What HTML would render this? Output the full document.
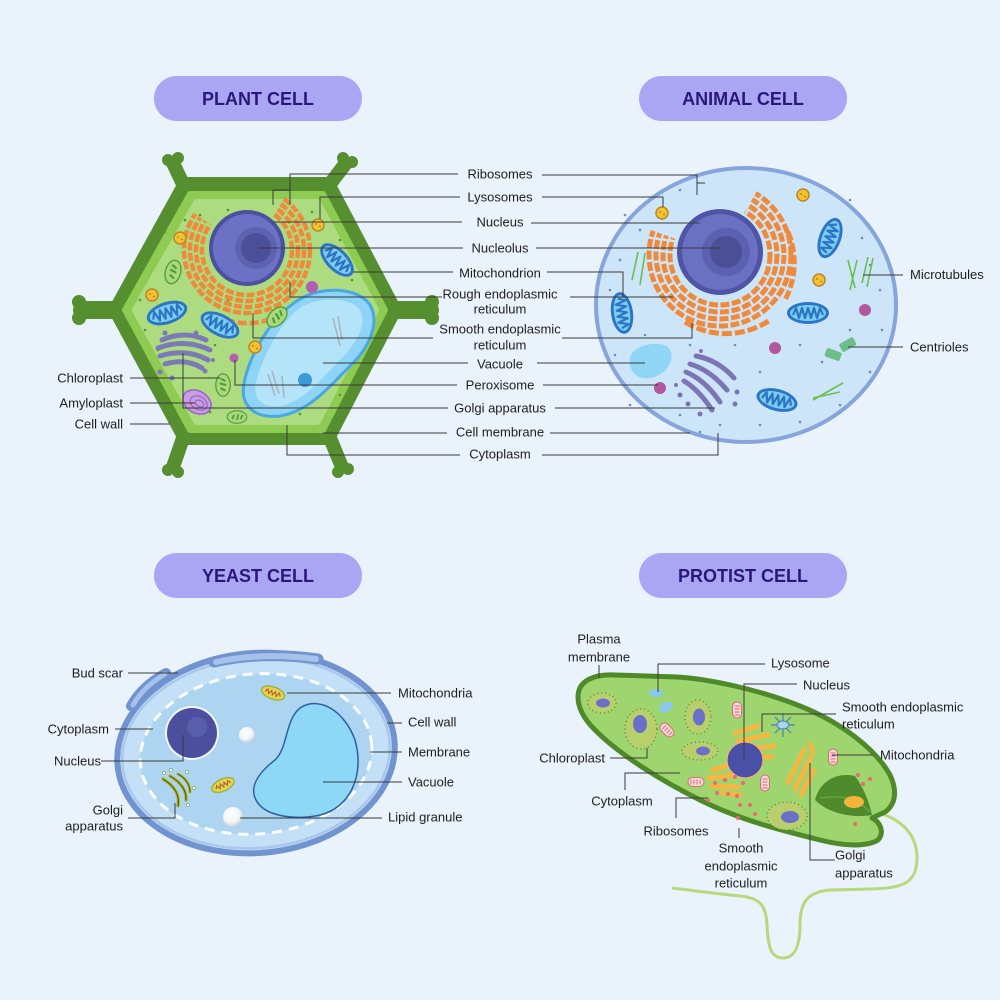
<!DOCTYPE html>
<html><head><meta charset="utf-8">
<style>
html,body{margin:0;padding:0;background:#eaf2fc;}
svg{display:block}
text{font-family:"Liberation Sans",sans-serif;font-size:13px;fill:#1e1e1e}
.t{font-weight:bold;font-size:18px;fill:#2a1878;text-anchor:middle}
.m{text-anchor:middle}
.e{text-anchor:end}
.ln{stroke:#3a3a3a;stroke-width:1;fill:none}
</style></head>
<body>
<svg width="1000" height="1000" viewBox="0 0 1000 1000">
<defs>
<g id="mito"><ellipse rx="21" ry="11" fill="#2c74c4"/><ellipse rx="18" ry="8" fill="#7ccdf3"/><path d="M-15,2 L-12,-5 L-9,5 L-6,-5 L-3,5 L0,-5 L3,5 L6,-5 L9,5 L12,-5 L15,2" stroke="#2c74c4" stroke-width="2.2" fill="none" stroke-linejoin="round"/></g>
<g id="lyso"><circle r="6" fill="#f4c22e" stroke="#b9872a" stroke-width="1.5"/><circle cx="-2" cy="-1" r="0.9" fill="#a4772a"/><circle cx="2" cy="1.5" r="0.9" fill="#a4772a"/></g>
<g id="chl"><ellipse rx="9" ry="14" fill="#a9d87a" stroke="#4f9a38" stroke-width="1.5"/><path d="M-3,-8 L3,-5 M-4,-2 L4,0 M-3,4 L3,7" stroke="#4f9a38" stroke-width="2.5"/></g>
<g id="pmito"><rect x="-4.5" y="-8" width="9" height="16" rx="4.5" fill="#fbd9d9" stroke="#d66a78" stroke-width="1"/><path d="M-2.5,-4 h5 M-2.5,-1 h5 M-2.5,2 h5 M-2.5,5 h5" stroke="#d66a78" stroke-width="1"/></g>
<clipPath id="pclip"><polygon points="247,250 333,127 420,127 420,420 80,420 80,164 124,164"/></clipPath>
<clipPath id="aclip"><polygon points="720,255 795,125 900,125 900,420 560,420 560,204 579,204"/></clipPath>
<radialGradient id="pearl" cx="0.4" cy="0.35" r="0.7"><stop offset="0" stop-color="#ffffff"/><stop offset="0.6" stop-color="#f1f5f7"/><stop offset="1" stop-color="#b9c9d3"/></radialGradient>
</defs>
<rect width="1000" height="1000" fill="#eaf2fc"/>

<!-- Titles -->
<rect x="154" y="76" width="208" height="45" rx="22.5" fill="#aaa6f4"/>
<text class="t" x="258" y="105">PLANT CELL</text>
<rect x="639" y="76" width="208" height="45" rx="22.5" fill="#aaa6f4"/>
<text class="t" x="743" y="105">ANIMAL CELL</text>
<rect x="154" y="553" width="208" height="45" rx="22.5" fill="#aaa6f4"/>
<text class="t" x="258" y="582">YEAST CELL</text>
<rect x="639" y="553" width="208" height="45" rx="22.5" fill="#aaa6f4"/>
<text class="t" x="743" y="582">PROTIST CELL</text>

<!-- ============ PLANT CELL ============ -->
<g stroke="#568f2f" stroke-linecap="round" stroke-width="14" fill="none">
<path d="M183,184 L173,163 M330,184 L346,163 M183,438 L173,467 M330,438 L342,467"/>
<path d="M112,310 L82,310 M398,310 L430,310" stroke-width="18"/>
</g>
<g fill="#568f2f">
<circle cx="79" cy="302" r="7"/><circle cx="79" cy="318" r="7"/>
<circle cx="432" cy="302" r="7"/><circle cx="432" cy="318" r="7"/>
<circle cx="168" cy="160" r="6"/><circle cx="178" cy="158" r="6"/>
<circle cx="343" cy="158" r="6"/><circle cx="352" cy="162" r="6"/>
<circle cx="168" cy="470" r="6"/><circle cx="178" cy="472" r="6"/>
<circle cx="338" cy="472" r="6"/><circle cx="348" cy="469" r="6"/>
</g>
<polygon points="183,181 330,181 398,310 330,441 183,441 112,310" fill="#568f2f" stroke="#568f2f" stroke-width="8" stroke-linejoin="round"/>
<polygon points="190,194 323,194 385,310 323,430 190,430 125,310" fill="#8dcb52" stroke="#8dcb52" stroke-width="6" stroke-linejoin="round"/>
<polygon points="197,203 317,203 375,310 317,421 197,421 136,310" fill="#acdb80" stroke="#acdb80" stroke-width="8" stroke-linejoin="round"/>
<g fill="#4d9a35">
<circle cx="150" cy="250" r="1.3"/><circle cx="165" cy="232" r="1.3"/><circle cx="200" cy="215" r="1.3"/><circle cx="228" cy="210" r="1.3"/>
<circle cx="312" cy="212" r="1.3"/><circle cx="340" cy="240" r="1.3"/><circle cx="352" cy="280" r="1.3"/><circle cx="364" cy="300" r="1.3"/>
<circle cx="145" cy="330" r="1.3"/><circle cx="158" cy="350" r="1.3"/><circle cx="148" cy="378" r="1.3"/><circle cx="175" cy="410" r="1.3"/>
<circle cx="210" cy="412" r="1.3"/><circle cx="300" cy="414" r="1.3"/><circle cx="340" cy="395" r="1.3"/><circle cx="360" cy="340" r="1.3"/>
<circle cx="228" cy="300" r="1.3"/><circle cx="200" cy="290" r="1.3"/><circle cx="215" cy="345" r="1.3"/><circle cx="250" cy="372" r="1.3"/>
<circle cx="140" cy="300" r="1.3"/><circle cx="185" cy="220" r="1.3"/><circle cx="270" cy="360" r="1.3"/>
</g>
<!-- plant ER -->
<g clip-path="url(#pclip)" fill="none" stroke="#f08a3a" stroke-width="4.5" stroke-dasharray="8 2.5">
<circle cx="247" cy="250" r="45"/><circle cx="247" cy="250" r="51"/><circle cx="247" cy="250" r="57"/><circle cx="247" cy="250" r="63"/>
</g>
<path d="M215,315 A69,69 0 0 0 285,312" fill="none" stroke="#f08a3a" stroke-width="4.5" stroke-dasharray="9 3"/>
<!-- plant nucleus -->
<circle cx="247" cy="248" r="38" fill="#4b519f"/>
<circle cx="247" cy="248" r="34" fill="#6b71c4"/>
<circle cx="256" cy="248" r="21" fill="#5d63b1"/>
<circle cx="256" cy="248" r="15" fill="#4b5099"/>
<!-- vacuole -->
<path d="M300,299 C322,286 358,287 370,305 C380,322 370,347 350,366 C330,386 310,411 280,416 C254,419 240,405 244,384 C248,358 270,317 300,299 Z" fill="#8ed4f6" stroke="#4aa7e4" stroke-width="3"/>
<path d="M303,306 C322,296 352,298 360,310 C368,325 355,345 340,360 C322,378 305,400 282,406 C262,409 252,398 256,382 C262,360 280,320 303,306 Z" fill="#b3e4fa"/>
<g stroke="#a7b3be" stroke-width="1.5"><path d="M268,374 L275,396 M272,371 L279,394 M282,376 L284,398 M333,318 L340,346 M338,316 L342,340"/></g>
<circle cx="305" cy="380" r="7" fill="#3a9bd9"/>
<!-- organelles -->
<use href="#mito" transform="translate(337,260) rotate(45)"/>
<use href="#mito" transform="translate(167,313) rotate(-18)"/>
<use href="#mito" transform="translate(220,325) rotate(27)"/>
<use href="#chl" transform="translate(173,272) rotate(15) scale(0.85)"/>
<use href="#chl" transform="translate(277,317) rotate(45) scale(0.85)"/>
<use href="#chl" transform="translate(223,385) scale(0.8)"/>
<use href="#chl" transform="translate(237,417) rotate(90) scale(0.7)"/>
<use href="#lyso" transform="translate(180,238)"/>
<use href="#lyso" transform="translate(318,225)"/>
<use href="#lyso" transform="translate(152,295)"/>
<use href="#lyso" transform="translate(255,347)"/>
<circle cx="312" cy="287" r="6" fill="#b15fae"/>
<circle cx="234" cy="358" r="4.5" fill="#b15fae"/>
<!-- golgi -->
<g stroke="#7c79b8" stroke-width="5" stroke-linecap="round" fill="none">
<path d="M162,340 Q185,330 206,340"/><path d="M158,348 Q185,338 210,350"/><path d="M160,356 Q186,348 208,360"/><path d="M165,364 Q186,358 202,368"/>
</g>
<g fill="#7c79b8"><circle cx="165" cy="333" r="2.5"/><circle cx="196" cy="333" r="2.5"/><circle cx="160" cy="372" r="2.5"/><circle cx="172" cy="378" r="2.5"/><circle cx="205" cy="371" r="2.5"/><circle cx="213" cy="360" r="2"/></g>
<!-- amyloplast -->
<g transform="translate(197,402) rotate(30)">
<ellipse rx="15" ry="11" fill="#c99de2" stroke="#9a63c4" stroke-width="1.5"/>
<ellipse cx="2" rx="9" ry="6.5" fill="none" stroke="#9a63c4" stroke-width="1.2"/>
<ellipse cx="3" rx="4.5" ry="3" fill="none" stroke="#9a63c4" stroke-width="1.2"/>
</g>

<!-- ============ ANIMAL CELL ============ -->
<ellipse cx="746" cy="305" rx="150" ry="137" fill="#cde5f8" stroke="#85a5db" stroke-width="4"/>
<g fill="#6b8fb8">
<circle cx="680" cy="190" r="1.3"/><circle cx="760" cy="195" r="1.3"/><circle cx="640" cy="230" r="1.3"/><circle cx="620" cy="260" r="1.3"/>
<circle cx="610" cy="290" r="1.3"/><circle cx="645" cy="335" r="1.3"/><circle cx="615" cy="355" r="1.3"/><circle cx="630" cy="405" r="1.3"/>
<circle cx="680" cy="415" r="1.3"/><circle cx="720" cy="425" r="1.3"/><circle cx="760" cy="425" r="1.3"/><circle cx="800" cy="422" r="1.3"/>
<circle cx="840" cy="405" r="1.3"/><circle cx="870" cy="372" r="1.3"/><circle cx="882" cy="330" r="1.3"/><circle cx="862" cy="238" r="1.3"/>
<circle cx="850" cy="200" r="1.3"/><circle cx="795" cy="262" r="1.3"/><circle cx="800" cy="345" r="1.3"/><circle cx="760" cy="372" r="1.3"/>
<circle cx="735" cy="345" r="1.3"/><circle cx="690" cy="345" r="1.3"/><circle cx="850" cy="330" r="1.3"/><circle cx="880" cy="290" r="1.3"/>
<circle cx="822" cy="362" r="1.3"/><circle cx="700" cy="432" r="1.3"/><circle cx="625" cy="215" r="1.3"/><circle cx="870" cy="265" r="1.3"/>
</g>
<g clip-path="url(#aclip)" fill="none" stroke="#f08a3a" stroke-width="5" stroke-dasharray="9 2.5">
<circle cx="720" cy="255" r="50"/><circle cx="720" cy="255" r="57"/><circle cx="720" cy="255" r="64"/><circle cx="720" cy="255" r="71"/>
</g>
<path d="M685,322 A78,78 0 0 0 770,320" fill="none" stroke="#f08a3a" stroke-width="5" stroke-dasharray="10 3"/>
<path d="M788,232 A72,76 0 0 1 785,300" fill="none" stroke="#f08a3a" stroke-width="5" stroke-dasharray="9 3"/>
<circle cx="720" cy="252" r="43" fill="#4f55a4"/>
<circle cx="720" cy="252" r="38" fill="#6a70c2"/>
<circle cx="726" cy="252" r="24" fill="#5b61b0"/>
<circle cx="726" cy="252" r="16" fill="#4a4f98"/>
<!-- animal organelles -->
<use href="#mito" transform="translate(622,313) rotate(82)"/>
<use href="#mito" transform="translate(830,238) rotate(-70)"/>
<use href="#mito" transform="translate(808,313)"/>
<use href="#mito" transform="translate(777,400) rotate(15)"/>
<use href="#lyso" transform="translate(662,213)"/>
<use href="#lyso" transform="translate(803,195)"/>
<use href="#lyso" transform="translate(819,280)"/>
<circle cx="865" cy="310" r="6" fill="#b4569e"/>
<circle cx="775" cy="348" r="6" fill="#b4569e"/>
<circle cx="660" cy="388" r="6" fill="#b4569e"/>
<path d="M630,358 C632,345 658,340 668,347 C677,357 668,375 650,378 C636,380 628,370 630,358 Z" fill="#8fd5f6"/>
<g stroke="#7d74b5" stroke-width="5" stroke-linecap="round" fill="none">
<path d="M696,356 Q718,360 734,378"/><path d="M690,364 Q710,370 727,390"/><path d="M686,372 Q705,380 720,402"/><path d="M684,381 Q699,390 712,410"/>
</g>
<g fill="#7d74b5"><circle cx="680" cy="395" r="2.5"/><circle cx="676" cy="385" r="2"/><circle cx="688" cy="404" r="2.5"/><circle cx="700" cy="414" r="2.5"/><circle cx="735" cy="404" r="2.5"/><circle cx="737" cy="392" r="2.5"/><circle cx="701" cy="351" r="2"/></g>
<g stroke="#6abf50" stroke-width="1.6" fill="none">
<path d="M632,280 L638,252 M640,285 L645,253 M850,290 L857,260 M848,260 L855,288 M862,283 L868,257 M867,287 L873,258 M813,400 L843,383 M813,398 L840,392"/>
</g>
<rect x="825" y="350" width="16" height="9" rx="2" fill="#6cbf8a" transform="rotate(20 833 355)"/>
<rect x="840" y="340" width="16" height="9" rx="2" fill="#6cbf8a" transform="rotate(-30 848 345)"/>

<!-- ============ LABELS TOP ============ -->
<g class="ln">
<!-- plant -->
<path d="M458,174 H290 V205 M290,190 H273 V205"/>
<path d="M460,197 H320 V219"/>
<path d="M462,222 H273"/>
<path d="M463,248 H258"/>
<path d="M453,272 H353"/>
<path d="M442,297 H290 V282"/>
<path d="M433,338 H253 V313"/>
<path d="M468,363 H323"/>
<path d="M457,385 H235 V360"/>
<path d="M448,408 H183 V353"/>
<path d="M447,433 H323"/>
<path d="M460,455 H287 V425"/>
<path d="M130,378 H220"/>
<path d="M130,403 H195"/>
<path d="M130,424 H170"/>
<!-- animal -->
<path d="M542,175 H697 V195 M697,183 H705"/>
<path d="M542,197 H663 V207"/>
<path d="M531,223 H700"/>
<path d="M536,248 H720"/>
<path d="M547,272 H623 V297"/>
<path d="M570,297 H673"/>
<path d="M562,338 H692 V323"/>
<path d="M537,363 H645"/>
<path d="M543,385 H658"/>
<path d="M555,408 H715"/>
<path d="M550,433 H690"/>
<path d="M542,455 H718 V433"/>
<path d="M863,275 H903"/>
<path d="M848,347 H903"/>
</g>
<g>
<text class="m" x="500" y="178.5">Ribosomes</text>
<text class="m" x="500" y="201.5">Lysosomes</text>
<text class="m" x="500" y="226.5">Nucleus</text>
<text class="m" x="500" y="252.5">Nucleolus</text>
<text class="m" x="500" y="277.5">Mitochondrion</text>
<text class="m" x="500" y="298.5">Rough endoplasmic</text>
<text class="m" x="500" y="313.5">reticulum</text>
<text class="m" x="500" y="333.5">Smooth endoplasmic</text>
<text class="m" x="500" y="349.5">reticulum</text>
<text class="m" x="500" y="368.5">Vacuole</text>
<text class="m" x="500" y="389.5">Peroxisome</text>
<text class="m" x="500" y="412.5">Golgi apparatus</text>
<text class="m" x="500" y="436.5">Cell membrane</text>
<text class="m" x="500" y="458.5">Cytoplasm</text>
<text class="e" x="123" y="382.5">Chloroplast</text>
<text class="e" x="123" y="407.5">Amyloplast</text>
<text class="e" x="123" y="428.5">Cell wall</text>
<text x="910" y="279">Microtubules</text>
<text x="910" y="351.5">Centrioles</text>
</g>

<!-- ============ YEAST CELL ============ -->
<g transform="rotate(-5 256 753)">
<ellipse cx="256" cy="753" rx="139" ry="100" fill="#c4e0f6" stroke="#7194d0" stroke-width="6"/>
<ellipse cx="256" cy="753" rx="134" ry="95" fill="none" stroke="#a9c6ec" stroke-width="2.5"/>
<ellipse cx="256" cy="754" rx="116" ry="80" fill="#acd4f0" stroke="#ffffff" stroke-width="3" stroke-dasharray="10 7" opacity="0.95"/>
</g>
<path d="M214,662 Q262,651 318,659" fill="none" stroke="#7194d0" stroke-width="11" stroke-linecap="round"/>
<path d="M216,662 Q262,652 316,659" fill="none" stroke="#a6c1ea" stroke-width="6" stroke-linecap="round"/>
<path d="M131,706 Q142,686 166,673" fill="none" stroke="#7194d0" stroke-width="10" stroke-linecap="round"/>
<path d="M133,705 Q143,687 165,674" fill="none" stroke="#a6c1ea" stroke-width="5" stroke-linecap="round"/>
<circle cx="192" cy="733" r="27" fill="#eef7fb"/>
<circle cx="192" cy="733" r="25" fill="#4b4f9d"/>
<circle cx="197" cy="727" r="10" fill="#5a5fab"/>
<circle cx="247" cy="735" r="8" fill="url(#pearl)"/>
<circle cx="233" cy="817" r="10" fill="url(#pearl)"/>
<path d="M300,708 C320,695 345,712 355,740 C365,775 350,808 320,815 C300,820 265,818 256,800 C248,785 262,770 275,760 C288,748 285,720 300,708 Z" fill="#8ed8f7" stroke="#2f5f9e" stroke-width="1.5"/>
<g transform="translate(273,693) rotate(20)"><ellipse rx="12" ry="6" fill="#e8d35a" stroke="#9ab83a" stroke-width="1.5"/><path d="M-8,1 L-6,-2 L-4,2 L-2,-2 L0,2 L2,-2 L4,2 L6,-2 L8,1" stroke="#b36f1c" stroke-width="1.3" fill="none"/></g>
<g transform="translate(223,785) rotate(-25)"><ellipse rx="12" ry="6" fill="#e8d35a" stroke="#9ab83a" stroke-width="1.5"/><path d="M-8,1 L-6,-2 L-4,2 L-2,-2 L0,2 L2,-2 L4,2 L6,-2 L8,1" stroke="#b36f1c" stroke-width="1.3" fill="none"/></g>
<g fill="none" stroke-linecap="round">
<path d="M163,779 Q181,790 178,806" stroke="#a7c23e" stroke-width="3.5"/><path d="M163,779 Q181,790 178,806" stroke="#6b5418" stroke-width="1.3"/>
<path d="M170,776 Q187,786 186,800" stroke="#a7c23e" stroke-width="3.5"/><path d="M170,776 Q187,786 186,800" stroke="#6b5418" stroke-width="1.3"/>
<path d="M178,774 Q190,781 190,792" stroke="#a7c23e" stroke-width="3"/><path d="M178,774 Q190,781 190,792" stroke="#6b5418" stroke-width="1.2"/>
</g>
<g fill="#ffffff" stroke="#7a9a3a" stroke-width="0.6"><circle cx="164" cy="773" r="1.6"/><circle cx="171" cy="770" r="1.6"/><circle cx="187" cy="772" r="1.6"/><circle cx="194" cy="788" r="1.6"/><circle cx="188" cy="805" r="1.6"/></g>
<g class="ln">
<path d="M128,673 H178"/>
<path d="M115,729 H153"/>
<path d="M101,761 H183 V735"/>
<path d="M128,818 H175 V803"/>
<path d="M287,693 H391"/>
<path d="M387,723 H402"/>
<path d="M370,752 H402"/>
<path d="M323,782 H402"/>
<path d="M240,818 H382"/>
</g>
<text class="e" x="123" y="677.5">Bud scar</text>
<text class="e" x="109" y="733.5">Cytoplasm</text>
<text class="e" x="101" y="765.5">Nucleus</text>
<text class="e" x="123" y="814.5">Golgi</text>
<text class="e" x="123" y="830.5">apparatus</text>
<text x="398" y="697.5">Mitochondria</text>
<text x="408" y="726.5">Cell wall</text>
<text x="408" y="756.5">Membrane</text>
<text x="408" y="786.5">Vacuole</text>
<text x="388" y="821.5">Lipid granule</text>

<!-- ============ PROTIST CELL ============ -->
<path d="M867,810 C895,815 918,830 917,860 C916,885 900,888 870,889 L830,890 C805,892 800,905 800,925 C800,945 795,958 783,958 C770,958 768,945 767,925 C766,905 760,898 740,896 C710,893 690,890 672,888" fill="none" stroke="#b7d97c" stroke-width="3"/>
<path d="M578,697 C578,680 595,674 615,675 L677,677 C710,679 760,690 800,706 C840,722 875,748 890,775 C898,792 895,805 885,812 L872,818 C880,822 885,832 878,840 C865,848 840,845 820,840 C780,830 740,820 700,800 C660,780 620,755 595,730 C583,718 578,707 578,697 Z" fill="#9fd56f" stroke="#4e8a2a" stroke-width="5" stroke-linejoin="round"/>
<path d="M815,800 C820,780 838,772 855,776 C865,790 870,805 872,815 C855,818 830,815 815,800 Z" fill="#4f8a2d"/>
<path d="M820,798 C840,795 855,797 870,812" fill="none" stroke="#6fae4a" stroke-width="1"/>
<ellipse cx="854" cy="802" rx="10" ry="6" fill="#f5b53b"/>
<!-- chloroplasts -->
<g>
<ellipse cx="602" cy="703" rx="14" ry="10" fill="#b8cf6b"/><ellipse cx="602" cy="703" rx="14" ry="10" fill="none" stroke="#5a8a3a" stroke-width="1.5" stroke-dasharray="1 3"/><ellipse cx="603" cy="703" rx="7" ry="4.5" fill="#6a6fc8"/>
<ellipse cx="641" cy="729" rx="16" ry="20" fill="#b8cf6b"/><ellipse cx="641" cy="729" rx="16" ry="20" fill="none" stroke="#5a8a3a" stroke-width="1.5" stroke-dasharray="1 3"/><ellipse cx="640" cy="724" rx="7" ry="9" fill="#6a6fc8"/>
<ellipse cx="698" cy="717" rx="13" ry="17" fill="#b8cf6b"/><ellipse cx="698" cy="717" rx="13" ry="17" fill="none" stroke="#5a8a3a" stroke-width="1.5" stroke-dasharray="1 3"/><ellipse cx="699" cy="717" rx="6" ry="8.5" fill="#6a6fc8"/>
<ellipse cx="700" cy="751" rx="18" ry="9" fill="#b8cf6b"/><ellipse cx="700" cy="751" rx="18" ry="9" fill="none" stroke="#5a8a3a" stroke-width="1.5" stroke-dasharray="1 3"/><ellipse cx="703" cy="751" rx="7" ry="4.5" fill="#6a6fc8"/>
<ellipse cx="787" cy="816" rx="20" ry="14" fill="#b8cf6b"/><ellipse cx="787" cy="816" rx="20" ry="14" fill="none" stroke="#5a8a3a" stroke-width="1.5" stroke-dasharray="1 3"/><ellipse cx="790" cy="817" rx="9" ry="6" fill="#6a6fc8"/>
</g>
<ellipse cx="656" cy="693" rx="7" ry="4" fill="#8ac8ec"/>
<ellipse cx="666" cy="707" rx="7" ry="5" fill="#8ac8ec" transform="rotate(-30 666 707)"/>
<!-- orange ER / golgi -->
<g stroke="#f7b643" stroke-width="5" stroke-linecap="round" fill="none">
<path d="M735,733 L758,726"/><path d="M738,741 L768,735"/><path d="M746,749 L774,746"/><path d="M752,757 L772,757"/>
<path d="M713,770 L733,764"/><path d="M709,778 L735,775"/><path d="M712,786 L738,787"/><path d="M722,793 L740,795"/>
<path d="M788,782 L804,750"/><path d="M795,789 L811,757"/><path d="M801,795 L814,770"/><path d="M810,744 L813,752"/>
</g>
<circle cx="745" cy="760" r="18" fill="#4a50a5" stroke="#f2b37a" stroke-width="1.2"/>
<g stroke="#4a7fb5" stroke-width="1.2"><path d="M783,713 L783,737 M771,725 L795,725 M775,717 L791,733 M791,717 L775,733"/></g>
<ellipse cx="783" cy="725" rx="6" ry="4" fill="#a9d6ec" stroke="#4a7fb5" stroke-width="1"/>
<use href="#pmito" transform="translate(667,730) rotate(-45)"/>
<use href="#pmito" transform="translate(737,710)"/>
<use href="#pmito" transform="translate(696,782) rotate(90)"/>
<use href="#pmito" transform="translate(765,783)"/>
<use href="#pmito" transform="translate(833,757)"/>
<g fill="#e86b6b">
<circle cx="715" cy="783" r="2"/><circle cx="725" cy="780" r="2"/><circle cx="735" cy="777" r="2"/><circle cx="743" cy="783" r="2"/>
<circle cx="717" cy="793" r="2"/><circle cx="728" cy="794" r="2"/><circle cx="737" cy="796" r="2"/><circle cx="708" cy="800" r="2"/>
<circle cx="740" cy="805" r="2"/><circle cx="750" cy="805" r="2"/><circle cx="738" cy="818" r="2"/><circle cx="755" cy="814" r="2"/>
<circle cx="858" cy="775" r="2"/><circle cx="863" cy="784" r="2"/><circle cx="870" cy="779" r="2"/><circle cx="855" cy="824" r="2"/>
</g>
<g class="ln">
<path d="M599,665 V678"/>
<path d="M765,664 H658 V692"/>
<path d="M797,684 H744 V760"/>
<path d="M836,714 H762 V732"/>
<path d="M873,755 H832"/>
<path d="M610,758 H647 V748"/>
<path d="M625,790 V773 H680"/>
<path d="M676,818 V798 H708"/>
<path d="M739,828 V838"/>
<path d="M810,763 V860 H835"/>
</g>
<text class="m" x="599" y="643.5">Plasma</text>
<text class="m" x="599" y="661.5">membrane</text>
<text x="771" y="667.5">Lysosome</text>
<text x="803" y="689.5">Nucleus</text>
<text x="842" y="711.5">Smooth endoplasmic</text>
<text x="842" y="728.5">reticulum</text>
<text x="880" y="759.5">Mitochondria</text>
<text class="e" x="605" y="762.5">Chloroplast</text>
<text class="m" x="622" y="805.5">Cytoplasm</text>
<text class="m" x="676" y="835.5">Ribosomes</text>
<text class="m" x="741" y="852.5">Smooth</text>
<text class="m" x="741" y="870.5">endoplasmic</text>
<text class="m" x="741" y="887.5">reticulum</text>
<text x="835" y="859.5">Golgi</text>
<text x="835" y="877.5">apparatus</text>
</svg>
</body></html>
